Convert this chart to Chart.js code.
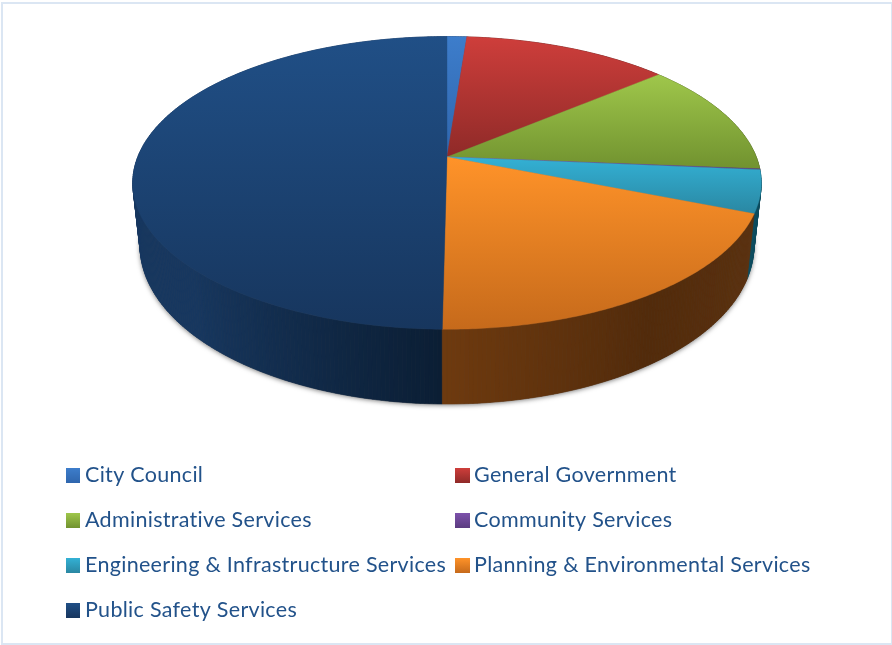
<!DOCTYPE html>
<html>
<head>
<meta charset="utf-8">
<style>html,body{margin:0;padding:0;background:#fff}canvas{display:block}</style>
<script src="https://cdn.jsdelivr.net/npm/chart.js@4/dist/chart.umd.min.js"></script>
</head>
<body>
<canvas id="c" width="892" height="645"></canvas>
<script>
const categories = ["City Council","General Government","Administrative Services","Community Services","Engineering & Infrastructure Services","Planning & Environmental Services","Public Safety Services"];
const shares = [1.2,12.6,12.5,0.1,4.7,19.1,49.8];

const topLight = ["#3d7dcb","#ce3e3b","#9fc74b","#7d52ab","#33b1d5","#ff9329","#204f86"];
const topDark  = ["#2f66ad","#8f2a28","#71922f","#5b3b80","#2a87a2","#c66a1b","#17365e"];
const wallStart = ["#17365e","#5c1a18","#47591c","#3a2552","#0a4758","#5c3210","#0b1e34"];
const wallMid   = ["#17365e","#5c1a18","#47591c","#3a2552","#0c4a5c","#522b0b","#17375f"];
const wallEnd   = ["#17365e","#5c1a18","#47591c","#3a2552","#0e4e60","#6e3a0f","#17375f"];
const textColor = "#22528a";
const frameColor = "#dbe6f3";
const legendOrder = [[0,1],[2,3],[4,5],[6]];

const persp = {k:0.177, topR:1.97, topS:0.903, botR:1.924, botS:0.975, botDx:0, botDy:61};

function hex(c){return [1,3,5].map(i=>parseInt(c.substr(i,2),16));}
function mix(a,b,t){const p=hex(a),q=hex(b);return "rgb("+p.map((v,i)=>Math.round(v+(q[i]-v)*t)).join(",")+")";}

function project(arc,a,disc){
  const u=Math.cos(a),v=Math.sin(a),d=1-persp.k*v,r=arc.outerRadius;
  if(disc==="top") return [arc.x+r*persp.topR*u/d, arc.y+r*persp.topS*v/d];
  return [arc.x+persp.botDx+r*persp.botR*u/d, arc.y+persp.botDy+r*persp.botS*v/d];
}
function arcPoints(arc,disc){
  const pts=[],n=Math.max(2,Math.ceil((arc.endAngle-arc.startAngle)/0.01));
  for(let i=0;i<=n;i++) pts.push(project(arc,arc.startAngle+(arc.endAngle-arc.startAngle)*i/n,disc));
  return pts;
}

const pie3d = {
  id:"pie3d",
  beforeDraw(chart){
    const g=chart.ctx;
    g.save();
    g.fillStyle="#fff";g.fillRect(0,0,chart.width,chart.height);
    g.fillStyle=frameColor;
    g.fillRect(1,2,891,2);g.fillRect(1,2,2,642);g.fillRect(891,2,1,643);g.fillRect(1,643,891,2);
    g.restore();
  },
  beforeDatasetDraw(chart){
    const g=chart.ctx, arcs=chart.getDatasetMeta(0).data;
    g.save();
    const whole={x:arcs[0].x,y:arcs[0].y,outerRadius:arcs[0].outerRadius};
    g.save();
    g.shadowColor="rgba(0,0,0,0.55)";g.shadowBlur=5;g.shadowOffsetX=0;g.shadowOffsetY=1;
    g.fillStyle="#555";
    g.beginPath();
    for(let i=0;i<=360;i++){const p=project(whole,i*Math.PI/180,"bot");i?g.lineTo(p[0],p[1]):g.moveTo(p[0],p[1]);}
    g.closePath();g.fill();
    g.restore();
    const strips=[];
    arcs.forEach((arc,idx)=>{
      const span=arc.endAngle-arc.startAngle,n=Math.max(1,Math.ceil(span/0.012));
      for(let i=0;i<n;i++){
        const a0=arc.startAngle+span*i/n,a1=arc.startAngle+span*(i+1)/n,t=(i+0.5)/n;
        strips.push({arc,idx,a0,a1,t,depth:Math.sin((a0+a1)/2)});
      }
    });
    strips.sort((p,q)=>p.depth-q.depth);
    strips.forEach(s=>{
      const p0=project(s.arc,s.a0,"top"),p1=project(s.arc,s.a1,"top"),q1=project(s.arc,s.a1,"bot"),q0=project(s.arc,s.a0,"bot");
      const span=s.arc.endAngle-s.arc.startAngle;
      const frac=s.idx===6?Math.min(1,s.t*span/(Math.PI/2)):s.t;
      const col=frac<0.5?mix(wallStart[s.idx],wallMid[s.idx],frac*2):mix(wallMid[s.idx],wallEnd[s.idx],(frac-0.5)*2);
      g.fillStyle=col;g.strokeStyle=col;g.lineWidth=0.6;
      g.beginPath();g.moveTo(p0[0],p0[1]);g.lineTo(p1[0],p1[1]);g.lineTo(q1[0],q1[1]);g.lineTo(q0[0],q0[1]);g.closePath();
      g.fill();g.stroke();
    });
    arcs.forEach((arc,idx)=>{
      const pts=arcPoints(arc,"top");
      let ymin=arc.y,ymax=arc.y;
      pts.forEach(p=>{ymin=Math.min(ymin,p[1]);ymax=Math.max(ymax,p[1]);});
      const grad=g.createLinearGradient(0,ymin,0,ymax);
      grad.addColorStop(0,topLight[idx]);grad.addColorStop(1,topDark[idx]);
      g.fillStyle=grad;g.strokeStyle=grad;g.lineWidth=0.4;
      g.beginPath();g.moveTo(arc.x,arc.y);
      pts.forEach(p=>g.lineTo(p[0],p[1]));
      g.closePath();g.fill();g.stroke();
    });
    g.restore();
    return false;
  },
  afterDraw(chart){
    const g=chart.ctx,labels=chart.data.labels;
    g.save();
    g.font='21.5px Lato';g.letterSpacing='0.3px';g.textBaseline="alphabetic";g.textAlign="left";
    legendOrder.forEach((row,r)=>{
      row.forEach((idx,c)=>{
        const sx=c?455:66, sy=468+45*r;
        const grad=g.createLinearGradient(0,sy,0,sy+15);
        grad.addColorStop(0,topLight[idx]);grad.addColorStop(1,topDark[idx]);
        g.fillStyle=grad;g.fillRect(sx,sy,c?15:14,15);
        g.fillStyle=textColor;
        g.fillText(labels[idx],c?474:85,sy+14);
      });
    });
    g.restore();
  }
};

new Chart(document.getElementById("c"),{
  type:"pie",
  data:{labels:categories,datasets:[{data:shares,backgroundColor:topLight,borderWidth:0}]},
  options:{
    responsive:false,animation:false,devicePixelRatio:1,
    layout:{padding:{left:2,right:0,top:0,bottom:331}},
    plugins:{legend:{display:false},tooltip:{enabled:false},title:{display:false}}
  },
  plugins:[pie3d]
});
</script>
</body>
</html>
